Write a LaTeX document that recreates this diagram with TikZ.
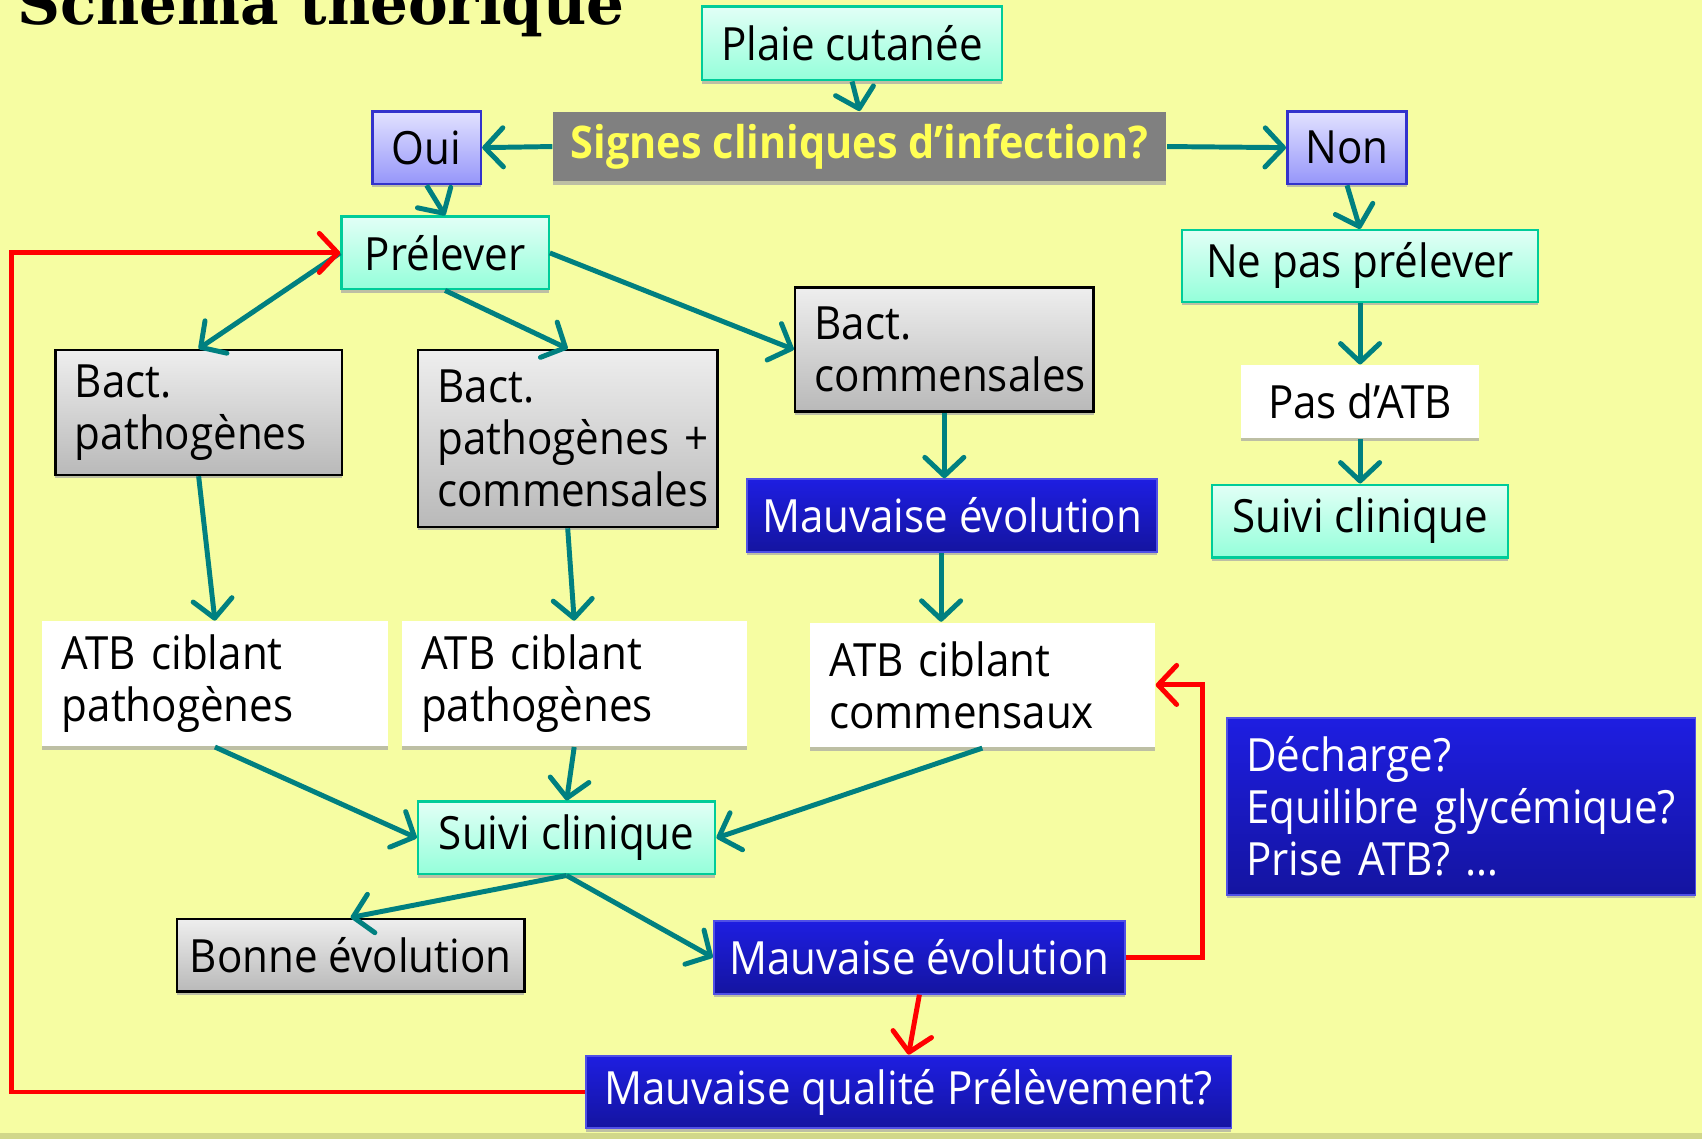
\documentclass[tikz,border=0pt]{standalone}
\usepackage{fontspec}
\setmainfont{Open Sans}[FakeStretch=0.92]
\newfontfamily\titlefont{DejaVu Serif}
\usetikzlibrary{arrows.meta,shadows}

\definecolor{bgyellow}{RGB}{246,253,162}
\definecolor{arrteal}{RGB}{0,128,128}
\definecolor{minttop}{RGB}{226,255,246}
\definecolor{mintbot}{RGB}{148,255,218}
\definecolor{mintline}{RGB}{0,204,153}
\definecolor{lavtop}{RGB}{226,226,255}
\definecolor{lavbot}{RGB}{150,150,250}
\definecolor{lavline}{RGB}{51,51,204}
\definecolor{greytop}{RGB}{238,238,238}
\definecolor{greybot}{RGB}{185,185,185}
\definecolor{bluetop}{RGB}{30,30,225}
\definecolor{bluebot}{RGB}{20,20,160}
\definecolor{blueline}{RGB}{80,80,230}
\definecolor{signfill}{RGB}{128,128,128}
\definecolor{signtext}{RGB}{255,255,85}

\tikzset{
  box/.style={inner xsep=1mm, inner ysep=0pt, minimum height=6.7mm,
    font=\fontsize{12}{13.6}\selectfont, align=center,
    drop shadow={shadow xshift=0mm, shadow yshift=-0.3mm, fill=gray!70, opacity=0.7}},
  lefttext/.style={align=left, inner xsep=1.8mm, text width=#1},
  mint/.style={box, draw=mintline, line width=0.6pt, top color=minttop, bottom color=mintbot},
  lav/.style={box, draw=lavline, line width=0.7pt, top color=lavtop, bottom color=lavbot},
  greybox/.style={box, draw=black, line width=0.7pt, top color=greytop, bottom color=greybot},
  whitebox/.style={box, fill=white},
  bluebox/.style={box, draw=blueline, line width=0.5pt, top color=bluetop, bottom color=bluebot, text=white},
  signbox/.style={box, fill=signfill, text=signtext, font=\fontsize{11.8}{13.6}\selectfont\bfseries, drop shadow={opacity=0}},
  arr/.style={draw=arrteal, line width=1.3pt, -{Straight Barb[round, length=1.7mm, width=3.6mm]}},
  redarr/.style={draw=red, line width=1.3pt, -{Straight Barb[round, length=1.7mm, width=3.6mm]}}
}

\begin{document}
\begin{tikzpicture}[x=0.1mm, y=-0.1mm]

\useasboundingbox (0,0) rectangle (1568,1049);
\fill[bgyellow] (0,0) rectangle (1568,1049);
\fill[black!15!bgyellow] (0,1044) rectangle (1568,1049);

\node[anchor=base west, inner sep=0pt, font=\titlefont\bfseries\fontsize{15.6}{17}\selectfont] (titre) at (15,23) {Schéma théorique};

% haut
\node[mint, minimum width=27.6mm, minimum height=6.8mm] (plaie) at (785,40) {Plaie cutanée};
\node[signbox, minimum width=56.5mm, minimum height=6.4mm] (signes) at (792,135) {Signes cliniques d'infection?};
\node[lav, minimum width=10mm] (oui) at (393,136) {Oui};
\node[lav, minimum width=11mm] (non) at (1241,136) {Non};
\node[mint, minimum width=19.1mm] (prelever) at (410,233) {Prélever};
\node[mint, minimum width=32.8mm, minimum height=6.6mm] (nepas) at (1253,245) {Ne pas prélever};

% bacteries
\node[greybox, lefttext=22.8mm, minimum height=11.5mm] (bpath) at (183,380) {Bact.\\pathogènes};
\node[greybox, lefttext=24mm, minimum height=16.3mm] (bpc) at (523,404) {Bact.\\\mbox{pathogènes +}\\commensales};
\node[greybox, lefttext=23.9mm, minimum height=11.4mm] (bcomm) at (870,322) {Bact.\\commensales};
\node[whitebox, minimum width=21.9mm] (pasatb) at (1253,370) {Pas d'ATB};
\node[bluebox, minimum width=37.8mm] (mauv1) at (877,475) {Mauvaise évolution};
\node[mint, minimum width=27.3mm] (suivi2) at (1253,480) {Suivi clinique};

% antibiotiques
\node[whitebox, lefttext=28.2mm, minimum height=11.5mm] (atb1) at (198,630) {ATB ciblant\\pathogènes};
\node[whitebox, lefttext=28.2mm, minimum height=11.5mm] (atb2) at (529,630) {ATB ciblant\\pathogènes};
\node[whitebox, lefttext=28.2mm, minimum height=11.5mm] (atbc) at (905,631) {ATB ciblant\\commensaux};
\node[bluebox, lefttext=39.6mm, minimum height=16.3mm] (decharge) at (1346,743) {Décharge?\\\mbox{Equilibre glycémique?}\\Prise ATB? …};

% suivi
\node[mint, minimum width=27.4mm] (suivi) at (522,772) {Suivi clinique};
\node[greybox, minimum width=32mm] (bonne) at (323,880) {Bonne évolution};
\node[bluebox, minimum width=37.9mm] (mauv2) at (847,882) {Mauvaise évolution};
\node[bluebox, minimum width=59.5mm] (qualite) at (837,1006) {Mauvaise qualité Prélèvement?};

\coordinate (loopL) at (11,0);
\coordinate (loopR) at (1108,0);

% fleches
\draw[arr] (plaie.south) -- (signes.north);
\draw[arr] (signes.west) -- (oui.east);
\draw[arr] (signes.east) -- (non.west);
\draw[arr] (oui.south) -- (prelever.north);
\draw[arr] (non.south) -- (nepas.north);
\draw[arr] (prelever.west) -- (bpath.north);
\draw[arr] (prelever.south) -- (bpc.north);
\draw[arr] (prelever.east) -- (bcomm.west);
\draw[arr] (nepas.south) -- (pasatb.north);
\draw[arr] (pasatb.south) -- (suivi2.north);
\draw[arr] (bpath.south) -- (atb1.north);
\draw[arr] (bpc.south) -- (atb2.north);
\draw[arr] (bcomm.south) -- (bcomm.south |- mauv1.north);
\draw[arr] ([xshift=-1mm]mauv1.south) -- ([xshift=-1mm]mauv1.south |- atbc.north);
\draw[arr] (atb1.south) -- (suivi.west);
\draw[arr] (atb2.south) -- (suivi.north);
\draw[arr] (atbc.south) -- (suivi.east);
\draw[arr] (suivi.south) -- (bonne.north);
\draw[arr] (suivi.south) -- (mauv2.west);

\draw[redarr] (mauv2.south) -- (qualite.north);
\draw[redarr] (mauv2.east) -| (loopR |- atbc.east) -- (atbc.east);
\draw[redarr] (qualite.west) -| (loopL |- prelever.west) -- (prelever.west);

\end{tikzpicture}
\end{document}
